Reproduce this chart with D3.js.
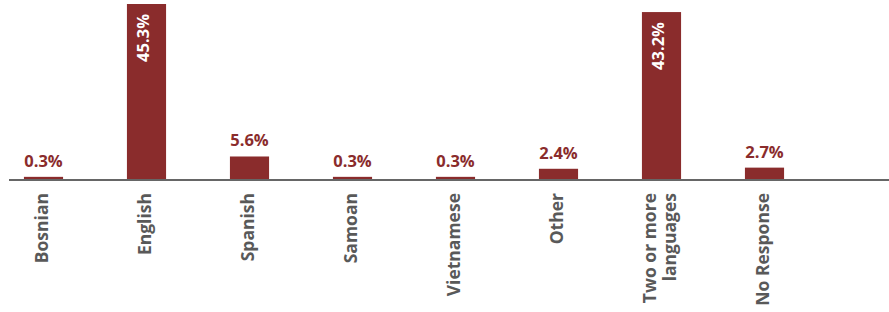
<!DOCTYPE html>
<html>
<head>
<meta charset="utf-8">
<script src="https://cdn.jsdelivr.net/npm/d3@7"></script>
<style>
  body { margin: 0; background: #fff; }
  svg { display: block; font-family: "Open Sans", sans-serif; }
</style>
</head>
<body>
<div id="chart"></div>
<script>
// data
var languages = ["Bosnian", "English", "Spanish", "Samoan", "Vietnamese", "Other", "Two or more languages", "No Response"];
var shares = [0.3, 45.3, 5.6, 0.3, 0.3, 2.4, 43.2, 2.7];
var labelLines = [["Bosnian"], ["English"], ["Spanish"], ["Samoan"], ["Vietnamese"], ["Other"], ["Two or more", "languages"], ["No Response"]];

var width = 889, height = 312;
var baseY = 180;
var barColor = "#8a2c2c";

var svg = d3.select("#chart").append("svg")
    .attr("width", width)
    .attr("height", height);

// scales
var x = d3.scaleBand()
    .domain(languages)
    .range([-8, 816])
    .paddingInner(0.62)
    .paddingOuter(0.31);

var y = d3.scaleLinear()
    .domain([0, 45.3])
    .range([baseY, 6]);

var data = languages.map(function(d, i) { return {name: d, value: shares[i], lines: labelLines[i]}; });

// bars
svg.selectAll(".bar")
    .data(data)
  .enter().append("rect")
    .attr("class", "bar")
    .attr("x", function(d) { return x(d.name); })
    .attr("y", function(d) { return y(d.value) - 2; })
    .attr("width", x.bandwidth())
    .attr("height", function(d) { return baseY - y(d.value) + 2; })
    .attr("fill", barColor);

// axis line
svg.append("line")
    .attr("x1", 9).attr("x2", width)
    .attr("y1", baseY).attr("y2", baseY)
    .attr("stroke", "#666")
    .attr("stroke-width", 2);

// value labels: small ones above, big ones inside rotated
var big = data.filter(function(d) { return d.value > 20; });
var small = data.filter(function(d) { return d.value <= 20; });

svg.selectAll(".val")
    .data(small)
  .enter().append("text")
    .attr("class", "val")
    .attr("x", function(d) { return x(d.name) + x.bandwidth() / 2; })
    .attr("y", function(d) { return y(d.value) - 12; })
    .attr("text-anchor", "middle")
    .attr("fill", barColor)
    .style("font-size", "16.5px")
    .style("font-weight", "bold")
    .text(function(d) { return d.value.toFixed(1) + "%"; });

svg.selectAll(".valin")
    .data(big)
  .enter().append("text")
    .attr("class", "valin")
    .attr("transform", function(d) {
      return "translate(" + (x(d.name) + x.bandwidth() / 2 - 3) + "," + (y(d.value) + 8) + ")rotate(-90)";
    })
    .attr("text-anchor", "end")
    .attr("dy", "0.35em")
    .attr("fill", "#fff")
    .style("font-size", "16.5px")
    .style("font-weight", "bold")
    .text(function(d) { return d.value.toFixed(1) + "%"; });

// category labels
var cat = svg.selectAll(".cat")
    .data(data)
  .enter().append("text")
    .attr("class", "cat")
    .attr("transform", function(d) {
      return "translate(" + (x(d.name) + x.bandwidth() / 2 - 2) + "," + 193 + ")rotate(-90)";
    })
    .attr("text-anchor", "end")
    .attr("fill", "#595959")
    .style("font-size", "17.5px")
    .style("font-weight", "bold");

cat.each(function(d) {
  var t = d3.select(this);
  var n = d.lines.length;
  d.lines.forEach(function(line, i) {
    t.append("tspan")
      .attr("x", 0)
      .attr("dy", i === 0 ? (0.35 - (n - 1) * 0.57) + "em" : "1.14em")
      .text(line);
  });
});
</script>
</body>
</html>
